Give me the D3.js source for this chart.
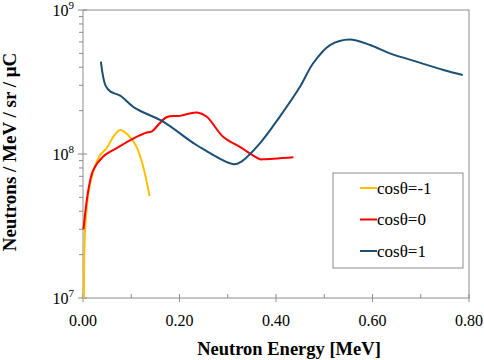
<html>
<head>
  <script src="https://cdn.jsdelivr.net/npm/d3@7"></script>
</head>
<style>
  body { margin: 0; background: #fff; }
  svg text { font-family: "Liberation Serif", "Times New Roman", Times, serif; }
</style>
<body>
  <svg width="484" height="360" id="chart"></svg>
  <script>
    // energies in MeV, values in neutrons / MeV / sr / uC
    var energyBack = [0.002, 0.004, 0.011, 0.021, 0.035, 0.049, 0.063, 0.077, 0.094, 0.111, 0.125, 0.138];
    var valueBack = [1.0e7, 2.8e7, 5.3e7, 7.5e7, 9.8e7, 1.10e8, 1.32e8, 1.47e8, 1.35e8, 1.12e8, 8.1e7, 5.1e7];

    var energySide = [0.001, 0.011, 0.021, 0.042, 0.070, 0.104, 0.132, 0.142, 0.173, 0.201, 0.236, 0.256, 0.291, 0.325, 0.367, 0.374, 0.436];
    var valueSide = [3.0e7, 5.6e7, 7.7e7, 9.6e7, 1.10e8, 1.28e8, 1.41e8, 1.43e8, 1.80e8, 1.84e8, 1.94e8, 1.82e8, 1.31e8, 1.12e8, 9.2e7, 9.2e7, 9.5e7];

    var energyFwd = [0.037, 0.047, 0.057, 0.077, 0.108, 0.166, 0.236, 0.312, 0.329, 0.367, 0.408, 0.450, 0.477, 0.512, 0.553, 0.595, 0.636, 0.698, 0.747, 0.787];
    var valueFwd = [4.38e8, 2.97e8, 2.71e8, 2.54e8, 2.08e8, 1.68e8, 1.15e8, 8.5e7, 8.9e7, 1.19e8, 1.82e8, 2.94e8, 4.27e8, 5.71e8, 6.25e8, 5.71e8, 5.0e8, 4.31e8, 3.83e8, 3.54e8];

    var seriesNames = ['cos\u03b8=-1', 'cos\u03b8=0', 'cos\u03b8=1'];
    var seriesColors = ['#FFC000', '#FF0000', '#1B4F75'];

    var xTicks = [0, 0.2, 0.4, 0.6, 0.8];
    var yExponents = [7, 8, 9];

    var plotLeft = 83, plotRight = 469, plotTop = 10, plotBottom = 298;
    var svg = d3.select('#chart');

    var x = d3.scaleLinear().domain([0, 0.8]).range([plotLeft, plotRight]);
    var y = d3.scaleLog().domain([1e7, 1e9]).range([plotBottom, plotTop]);

    // plot frame
    svg.append('rect')
      .attr('x', plotLeft).attr('y', plotTop)
      .attr('width', plotRight - plotLeft).attr('height', plotBottom - plotTop)
      .attr('fill', 'none').attr('stroke', '#8c8c8c').attr('stroke-width', 1);

    // x axis ticks
    var xMinor = [0.1, 0.3, 0.5, 0.7];
    xMinor.forEach(function (v) {
      svg.append('line').attr('x1', x(v)).attr('x2', x(v))
        .attr('y1', plotBottom).attr('y2', plotBottom - 4)
        .attr('stroke', '#8c8c8c');
    });
    xTicks.forEach(function (v) {
      svg.append('line').attr('x1', x(v)).attr('x2', x(v))
        .attr('y1', plotBottom - 4).attr('y2', plotBottom + 4)
        .attr('stroke', '#8c8c8c');
      svg.append('text')
        .attr('x', x(v)).attr('y', 326)
        .attr('text-anchor', 'middle')
        .attr('font-size', '16px')
        .text(v.toFixed(2));
    });

    // y axis ticks
    [1e7, 1e8].forEach(function (base) {
      d3.range(2, 10).forEach(function (m) {
        svg.append('line').attr('x1', plotLeft - 4).attr('x2', plotLeft)
          .attr('y1', y(base * m)).attr('y2', y(base * m))
          .attr('stroke', '#8c8c8c');
      });
    });
    yExponents.forEach(function (e) {
      var yy = y(Math.pow(10, e));
      svg.append('line').attr('x1', plotLeft - 5).attr('x2', plotLeft + 4)
        .attr('y1', yy).attr('y2', yy).attr('stroke', '#8c8c8c');
      var t = svg.append('text')
        .attr('x', plotLeft - 9).attr('y', yy + 6)
        .attr('text-anchor', 'end')
        .attr('font-size', '16px');
      t.append('tspan').text('10');
      t.append('tspan').attr('dy', -7).attr('font-size', '11px').text(e);
    });

    // axis titles
    svg.append('text')
      .attr('x', 289).attr('y', 355)
      .attr('text-anchor', 'middle')
      .attr('font-size', '18.5px').attr('font-weight', 'bold')
      .text('Neutron Energy [MeV]');
    svg.append('text')
      .attr('transform', 'translate(16,152) rotate(-90)')
      .attr('text-anchor', 'middle')
      .attr('font-size', '19px').attr('font-weight', 'bold')
      .text('Neutrons / MeV / sr / \u03bcC');

    // curves
    var data = [
      d3.zip(energyBack, valueBack),
      d3.zip(energySide, valueSide),
      d3.zip(energyFwd, valueFwd)
    ];
    var line = d3.line()
      .x(function (d) { return x(d[0]); })
      .y(function (d) { return y(d[1]); })
      .curve(d3.curveCatmullRom.alpha(0.5));
    svg.selectAll('path.curve')
      .data(data)
      .enter()
      .append('path')
      .attr('class', 'curve')
      .attr('d', line)
      .attr('fill', 'none')
      .attr('stroke', function (d, i) { return seriesColors[i]; })
      .attr('stroke-width', 2);

    // legend
    svg.append('rect')
      .attr('x', 333).attr('y', 173).attr('width', 130).attr('height', 95)
      .attr('fill', '#fff').attr('stroke', '#8c8c8c');
    seriesNames.forEach(function (name, i) {
      var ly = 188 + i * 31.5;
      svg.append('line').attr('x1', 360).attr('x2', 377)
        .attr('y1', ly).attr('y2', ly)
        .attr('stroke', seriesColors[i]).attr('stroke-width', 2);
      svg.append('text')
        .attr('x', 377).attr('y', ly + 5.5)
        .attr('font-size', '17px')
        .text(name);
    });
  </script>
</body>
</html>
